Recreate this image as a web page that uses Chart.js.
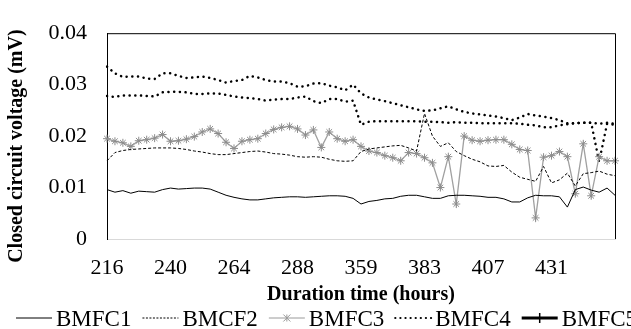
<!DOCTYPE html>
<html lang="en">
<head>
<meta charset="UTF-8">
<title>Closed circuit voltage of BMFCs</title>
<style>
    body { margin: 0; background: #fff; }
    .chart-box { position: relative; width: 631px; height: 329px; }
</style>
<script src="https://cdn.jsdelivr.net/npm/chart.js"></script>
</head>
<body>
<div class="chart-box"><canvas id="plot"></canvas></div>
<script>
// sampled every 3 hours; data stops at 309 h and resumes at 359 h
const hours = [216, 219, 222, 225, 228, 231, 234, 237, 240, 243, 246, 249, 252, 255, 258, 261,
    264, 267, 270, 273, 276, 279, 282, 285, 288, 291, 294, 297, 300, 303, 306, 309,
    359, 362, 365, 368, 371, 374, 377, 380, 383, 386, 389, 392, 395, 398, 401, 404,
    407, 410, 413, 416, 419, 422, 425, 428, 431, 434, 437, 440, 443, 446, 449, 452, 455];

const bmfc1 = [.0096, .0091, .0094, .0089, .0093, .0092, .0091, .0096, .0099, .0097,
    .0098, .0099, .0099, .0097, .0091, .0085, .0081, .0078, .0076, .0076,
    .0078, .0080, .0081, .0082, .0082, .0081, .0082, .0083, .0084, .0084,
    .0083, .0079, .0068, .0073, .0075, .0078, .0079, .0083, .0085, .0085,
    .0082, .0079, .0079, .0084, .0085, .0085, .0084, .0083, .0081, .0081,
    .0078, .0072, .0072, .0080, .0085, .0084, .0084, .0082, .0062, .0096,
    .0101, .0095, .0091, .0099, .0085];

const bmcf2 = [.0152, .0168, .0172, .0174, .0175, .0176, .0177, .0177, .0177, .0176,
    .0174, .0171, .0169, .0166, .0164, .0164, .0166, .0168, .0170, .0171,
    .0169, .0166, .0165, .0163, .0160, .0159, .0160, .0159, .0155, .0152,
    .0151, .0152, .0170, .0175, .0177, .0179, .0181, .0182, .0177, .0171,
    .0244, .0200, .0180, .0187, .0170, .0162, .0155, .0150, .0142, .0141,
    .0143, .0130, .0120, .0116, .0112, .0141, .0109, .0115, .0128, .0103,
    .0127, .0129, .0132, .0126, .0123];

const bmfc3 = [.0195, .0190, .0187, .0180, .0191, .0193, .0196, .0203, .0190, .0191,
    .0194, .0199, .0208, .0214, .0205, .0188, .0176, .0190, .0193, .0195,
    .0205, .0213, .0217, .0219, .0214, .0202, .0212, .0178, .0208, .0195,
    .0190, .0193, .0180, .0171, .0168, .0162, .0158, .0152, .0168, .0166,
    .0158, .0148, .0100, .0160, .0068, .0200, .0192, .0190, .0192, .0193,
    .0193, .0184, .0174, .0172, .0041, .0159, .0162, .0170, .0160, .0088,
    .0185, .0084, .0160, .0152, .0152];

const bmfc4 = [.0335, .0322, .0315, .0316, .0316, .0312, .0311, .0322, .0322, .0317,
    .0313, .0314, .0316, .0313, .0309, .0304, .0307, .0309, .0317, .0314,
    .0309, .0306, .0306, .0303, .0296, .0297, .0302, .0303, .0298, .0295,
    .0289, .0300, .0283, .0275, .0271, .0268, .0264, .0260, .0256, .0252,
    .0249, .0250, .0254, .0258, .0252, .0247, .0244, .0242, .0240, .0238,
    .0235, .0231, .0236, .0243, .0240, .0238, .0235, .0231, .0225, .0225,
    .0226, .0226, .0224, .0226, .0224];

const bmfc5 = [.0278, .0276, .0279, .0279, .0279, .0278, .0277, .0285, .0286, .0286,
    .0285, .0282, .0282, .0283, .0283, .0280, .0277, .0275, .0274, .0272,
    .0269, .0271, .0272, .0272, .0275, .0277, .0268, .0264, .0272, .0272,
    .0267, .0269, .0222, .0228, .0229, .0229, .0229, .0229, .0229, .0229,
    .0228, .0228, .0227, .0226, .0227, .0226, .0226, .0225, .0225, .0225,
    .0225, .0225, .0224, .0222, .0221, .0217, .0217, .0221, .0223, .0225,
    .0226, .0226, .0150, .0224, .0222];

const labelEvery = 8;
const serif = '"Liberation Serif", "Times New Roman", serif';

// box on top and right of the plot area (bottom axis stays grey)
const frame = {
    id: 'frame',
    afterDatasetsDraw(chart) {
        const { ctx, chartArea: a } = chart;
        ctx.save();
        ctx.strokeStyle = '#000';
        ctx.lineWidth = 1;
        ctx.beginPath();
        ctx.moveTo(a.left, a.top + 0.5);
        ctx.lineTo(a.right + 0.5, a.top + 0.5);
        ctx.lineTo(a.right + 0.5, a.bottom);
        ctx.stroke();
        ctx.restore();
    }
};

// Excel style legend row along the bottom edge
const bottomLegend = {
    id: 'bottomLegend',
    afterDraw(chart) {
        const ctx = chart.ctx;
        const yLine = 318, yText = 326, sample = 36;
        let x = 16;
        ctx.save();
        ctx.font = '23px ' + serif;
        ctx.textBaseline = 'alphabetic';
        chart.data.datasets.forEach(ds => {
            const lg = ds.legendLine;
            ctx.beginPath();
            ctx.strokeStyle = lg.color;
            ctx.lineWidth = lg.width;
            ctx.lineCap = lg.cap || 'butt';
            ctx.setLineDash(lg.dash || []);
            ctx.moveTo(x, yLine);
            ctx.lineTo(x + sample, yLine);
            ctx.stroke();
            ctx.setLineDash([]);
            ctx.lineCap = 'butt';
            const cx = x + sample / 2, r = 3.5;
            if (lg.marker === 'star') {
                ctx.lineWidth = 1;
                ctx.beginPath();
                ctx.moveTo(cx - r, yLine - r); ctx.lineTo(cx + r, yLine + r);
                ctx.moveTo(cx - r, yLine + r); ctx.lineTo(cx + r, yLine - r);
                ctx.moveTo(cx, yLine - r); ctx.lineTo(cx, yLine + r);
                ctx.stroke();
            } else if (lg.marker === 'cross') {
                ctx.lineWidth = 1.5;
                ctx.beginPath();
                ctx.moveTo(cx, yLine - 5); ctx.lineTo(cx, yLine + 5);
                ctx.stroke();
            }
            ctx.fillStyle = '#000';
            ctx.fillText(ds.label, x + sample + 4, yText);
            x += sample + 4 + ctx.measureText(ds.label).width + 11;
        });
        ctx.restore();
    }
};

Chart.defaults.color = '#000';
Chart.defaults.font.family = serif;

const dotted = { borderColor: '#000', borderWidth: 2.5, borderDash: [0.1, 5.6], borderCapStyle: 'round', pointRadius: 0 };

new Chart(document.getElementById('plot'), {
    type: 'line',
    data: {
        labels: hours,
        datasets: [
            { label: 'BMFC1', data: bmfc1, borderColor: '#000', borderWidth: 1, pointRadius: 0,
              legendLine: { color: '#000', width: 1 } },
            { label: 'BMCF2', data: bmcf2, borderColor: '#000', borderWidth: 1, borderDash: [3, 2], pointRadius: 0,
              legendLine: { color: '#000', width: 1, dash: [2, 1.5] } },
            { label: 'BMFC3', data: bmfc3, borderColor: '#a0a0a0', borderWidth: 1.3,
              pointStyle: 'star', pointRadius: 4, pointBorderWidth: 1, pointBorderColor: '#8c8c8c', pointBackgroundColor: '#8c8c8c',
              legendLine: { color: '#9a9a9a', width: 1, marker: 'star' } },
            Object.assign({ label: 'BMFC4', data: bmfc4,
              legendLine: { color: '#000', width: 2.2, dash: [0.1, 5], cap: 'round' } }, dotted),
            Object.assign({ label: 'BMFC5', data: bmfc5,
              legendLine: { color: '#000', width: 3, marker: 'cross' } }, dotted)
        ]
    },
    options: {
        responsive: true,
        maintainAspectRatio: false,
        animation: false,
        layout: { padding: { top: 22, right: 15, left: 0, bottom: 0 } },
        plugins: { legend: { display: false }, tooltip: { enabled: false } },
        scales: {
            x: {
                type: 'category',
                offset: false,
                grid: { display: false, drawTicks: false },
                border: { display: true, color: '#d9d9d9', width: 1 },
                ticks: {
                    autoSkip: false,
                    maxRotation: 0,
                    padding: 16,
                    font: { size: 22 },
                    callback: (v, i) => (i % labelEvery === 0 && i < hours.length - 1) ? String(hours[i]) : ''
                },
                title: {
                    display: true,
                    text: 'Duration time (hours)',
                    font: { size: 20, weight: 'bold' },
                    padding: { top: 0, bottom: 22 }
                },
                afterFit: s => { s.height = 90; }
            },
            y: {
                min: 0,
                max: 0.04,
                grid: { display: false, drawTicks: false },
                border: { display: true, color: '#000', width: 1 },
                ticks: {
                    stepSize: 0.01,
                    padding: 20,
                    font: { size: 22 },
                    callback: v => v === 0 ? '0' : v.toFixed(2)
                },
                title: {
                    display: true,
                    text: 'Closed circuit voltage (mV)\u00a0\u00a0\u00a0\u00a0',
                    font: { size: 20, weight: 'bold' },
                    padding: { top: 5, bottom: 0 }
                },
                afterFit: s => { s.width = 107; }
            }
        }
    },
    plugins: [frame, bottomLegend]
});
</script>
</body>
</html>
